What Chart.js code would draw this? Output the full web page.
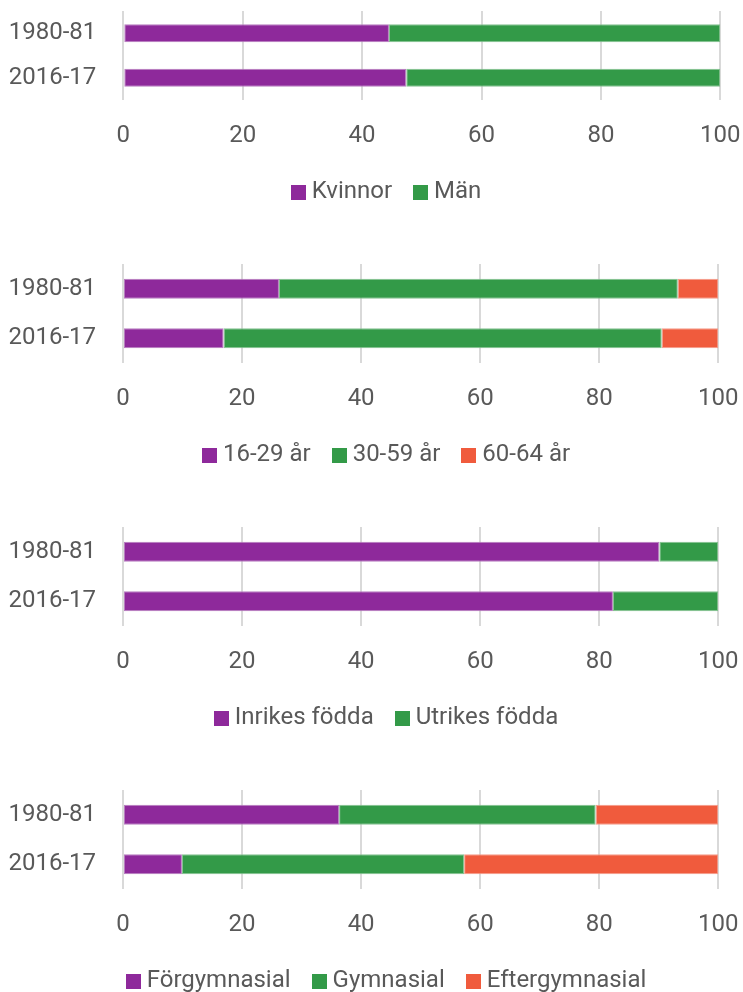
<!DOCTYPE html>
<html>
<head>
<meta charset="utf-8">
<script src="https://cdn.jsdelivr.net/npm/chart.js@4"></script>
<style>
  html, body { margin: 0; padding: 0; background: #ffffff; overflow: hidden; }
  body { width: 743px; height: 992px; position: relative; }
  .box { position: absolute; left: 0; width: 743px; }
</style>
</head>
<body>
<div class="box" id="b1" style="top:0px;height:253px"><canvas id="c1"></canvas></div>
<div class="box" id="b2" style="top:253px;height:263px"><canvas id="c2"></canvas></div>
<div class="box" id="b3" style="top:516px;height:263px"><canvas id="c3"></canvas></div>
<div class="box" id="b4" style="top:779px;height:263px"><canvas id="c4"></canvas></div>
<script>
// ---- Data ----
const categories = ['1980-81', '2016-17'];
const xTicks = [0, 20, 40, 60, 80, 100];

// Chart 1: kön
const genderLabels = ['Kvinnor', 'Män'];
const kvinnor = [44.5, 47.4];
const man = [55.5, 52.6];

// Chart 2: ålder
const ageLabels = ['16-29 år', '30-59 år', '60-64 år'];
const age16_29 = [26.2, 16.9];
const age30_59 = [67.0, 73.6];
const age60_64 = [6.8, 9.5];

// Chart 3: födelseland
const birthLabels = ['Inrikes födda', 'Utrikes födda'];
const inrikes = [90.1, 82.3];
const utrikes = [9.9, 17.7];

// Chart 4: utbildning
const eduLabels = ['Förgymnasial', 'Gymnasial', 'Eftergymnasial'];
const forgymnasial = [36.3, 9.9];
const gymnasial = [43.1, 47.4];
const eftergymnasial = [20.6, 42.7];

// ---- Styles ----
const colors = ['#8E299B', '#339A48', '#F05B3D'];
const borders = ['#b77dbf', '#85c291', '#f59c8a'];
const textColor = '#595959';
const gridColor = '#d9d9d9';
const font = { family: 'Roboto, "Noto Sans", sans-serif', size: 24 };

function makeSwatch(color) {
  const c = document.createElement('canvas');
  c.width = 15; c.height = 15;
  const g = c.getContext('2d');
  g.fillStyle = color;
  g.fillRect(0, 0, 15, 15);
  return c;
}
const swatches = colors.map(makeSwatch);

function makeChart(id, labels, seriesList, plotRightGap, yWidth) {
  const datasets = seriesList.map((vals, i) => ({
    label: labels[i],
    data: vals,
    backgroundColor: colors[i],
    borderColor: borders[i],
    borderWidth: 1,
    borderSkipped: false,
    barPercentage: 0.8,
    categoryPercentage: 0.5
  }));
  return new Chart(document.getElementById(id), {
    type: 'bar',
    data: { labels: categories, datasets },
    options: {
      indexAxis: 'y',
      responsive: true,
      maintainAspectRatio: false,
      animation: false,
      layout: { padding: { top: 11, left: 0, right: -35, bottom: 39 } },
      plugins: {
        legend: {
          position: 'bottom',
          labels: {
            font: font,
            color: textColor,
            usePointStyle: true,
            boxWidth: 3,
            boxHeight: 15,
            padding: 27,
            generateLabels: (chart) => {
              const items = Chart.defaults.plugins.legend.labels.generateLabels(chart);
              items.forEach((it, i) => { it.lineWidth = 0; it.pointStyle = swatches[i]; });
              return items;
            }
          }
        },
        tooltip: { enabled: false }
      },
      scales: {
        x: {
          stacked: true,
          min: 0,
          max: 100,
          afterBuildTicks: (axis) => { axis.ticks = xTicks.map(v => ({ value: v })); },
          ticks: { font: font, color: textColor, padding: 22, maxRotation: 0, autoSkip: false },
          grid: { color: gridColor, lineWidth: 2, drawTicks: false },
          border: { display: false },
          afterFit: (scale) => {
            scale.height = 53;
            scale.paddingLeft = 0;
            scale.paddingRight = plotRightGap;
          }
        },
        y: {
          stacked: true,
          ticks: { font: font, color: textColor, padding: 27, autoSkip: false },
          grid: { display: false, drawTicks: false },
          border: { display: false },
          afterFit: (scale) => {
            scale.width = yWidth;
            scale.paddingTop = 0;
            scale.paddingBottom = 0;
          }
        }
      }
    }
  });
}

makeChart('c1', genderLabels, [kvinnor, man], 22.7, 123.3);
makeChart('c2', ageLabels, [age16_29, age30_59, age60_64], 24.7, 123);
makeChart('c3', birthLabels, [inrikes, utrikes], 24.7, 123);
makeChart('c4', eduLabels, [forgymnasial, gymnasial, eftergymnasial], 24.7, 123);
</script>
</body>
</html>
